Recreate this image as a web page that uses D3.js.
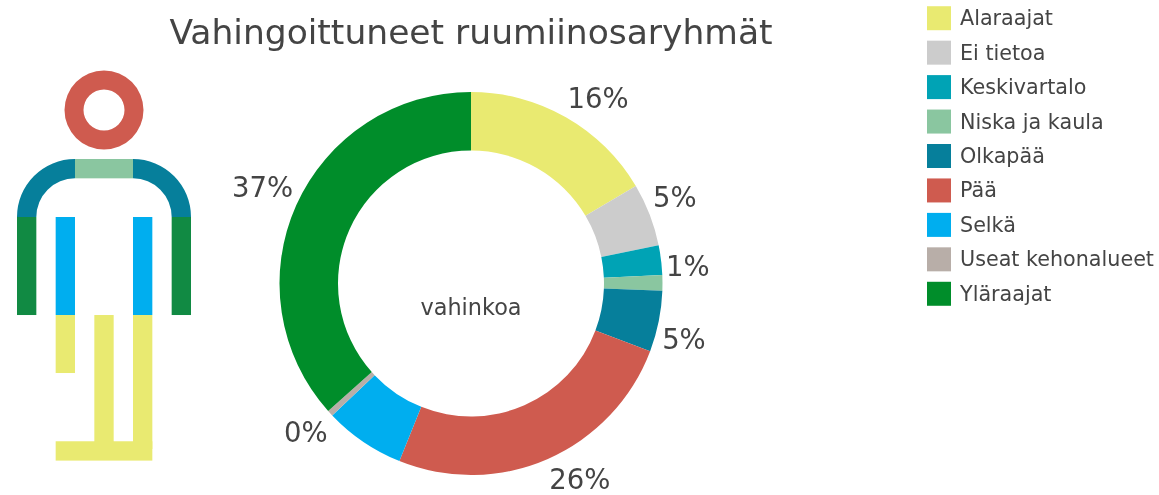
<!DOCTYPE html>
<html>
<head>
<meta charset="utf-8">
<script src="https://cdn.jsdelivr.net/npm/d3@7"></script>
<style>
    html, body { margin: 0; background: #fff; }
    svg { display: block; filter: blur(0.7px); }
    text { font-family: "DejaVu Sans", sans-serif; fill: #444; }
</style>
</head>
<body>
<svg id="chart"></svg>
<script>
let width = 1159;
let height = 495;

let categories = ["Alaraajat", "Ei tietoa", "Keskivartalo", "Niska ja kaula", "Olkapää", "Pää", "Selkä", "Useat kehonalueet", "Yläraajat"];
let values = [16.5, 5.3, 2.5, 1.3, 5.15, 25.35, 6.8, 0.5, 36.6];
// the original only prints some of the labels, the rest were hidden
let sliceLabels = ["16%", "5%", "", "1%", "5%", "26%", "", "0%", "37%"];
let colors = ["#e9ea71", "#cccccc", "#00a3b5", "#8ac6a0", "#067f9b", "#cf5b4f", "#00aeef", "#b8aea8", "#008d2a"];

// body figure, in grid cells: category index, x0, x1, y0, y1
let bodyParts = [
    [8, 0, 1, 3, 8.07],
    [8, 8, 9, 3, 8.07],
    [6, 2, 3, 3, 8.07],
    [6, 6, 7, 3, 8.07],
    [3, 3, 6, 0, 1],
    [0, 2, 3, 8.07, 11.07],
    [0, 4, 5, 8.07, 15],
    [0, 6, 7, 8.07, 15],
    [0, 2, 7, 14.6, 15.6]
];
let armColor = "#118a43";

let svg = d3.select("#chart")
    .attr("width", width)
    .attr("height", height);

svg.append("text")
    .attr("x", 471)
    .attr("y", 44)
    .attr("text-anchor", "middle")
    .attr("font-size", 34.5)
    .text("Vahingoittuneet ruumiinosaryhmät");

// donut
let outerRadius = 191.5;
let innerRadius = 133;
let pie = d3.pie().sort(null)(values);
let arc = d3.arc().innerRadius(innerRadius).outerRadius(outerRadius);
let labelArc = d3.arc().innerRadius(195).outerRadius(195);

let donut = svg.append("g")
    .attr("transform", "translate(471,283.5)");

donut.selectAll("path")
    .data(pie)
    .join("path")
    .attr("d", arc)
    .attr("fill", (d, i) => colors[i]);

// labels hang off the arc by their nearest corner
let midAngle = d => (d.startAngle + d.endAngle) / 2;
donut.selectAll("text")
    .data(pie)
    .join("text")
    .attr("x", d => labelArc.centroid(d)[0])
    .attr("y", d => labelArc.centroid(d)[1] - Math.sign(Math.cos(midAngle(d))) * 16.5)
    .attr("text-anchor", d => Math.sin(midAngle(d)) > 0 ? "start" : "end")
    .attr("dominant-baseline", "central")
    .attr("font-size", 27.5)
    .text((d, i) => sliceLabels[i]);

donut.append("text")
    .attr("y", 23)
    .attr("text-anchor", "middle")
    .attr("dominant-baseline", "central")
    .attr("font-size", 22.4)
    .text("vahinkoa");

// body figure
let gx = d3.scaleLinear().domain([0, 9]).range([17, 191]);
let gy = d3.scaleLinear().domain([0, 9]).range([159, 333]);
let body = svg.append("g");

body.selectAll("rect")
    .data(bodyParts)
    .join("rect")
    .attr("x", d => gx(d[1]))
    .attr("y", d => gy(d[3]))
    .attr("width", d => gx(d[2]) - gx(d[1]))
    .attr("height", d => gy(d[4]) - gy(d[3]))
    .attr("fill", d => d[0] == 8 ? armColor : colors[d[0]]);

let unit = gx(1) - gx(0);

// shoulders
let shoulder = d3.arc().innerRadius(unit * 2).outerRadius(unit * 3);
body.append("path")
    .attr("transform", `translate(${gx(3)},${gy(3)})`)
    .attr("d", shoulder({startAngle: -Math.PI / 2, endAngle: 0}))
    .attr("fill", colors[4]);
body.append("path")
    .attr("transform", `translate(${gx(6)},${gy(3)})`)
    .attr("d", shoulder({startAngle: 0, endAngle: Math.PI / 2}))
    .attr("fill", colors[4]);

// head
body.append("path")
    .attr("transform", `translate(${gx(4.5)},110)`)
    .attr("d", d3.arc().innerRadius(20.5).outerRadius(39.5)({startAngle: 0, endAngle: 2 * Math.PI}))
    .attr("fill", colors[5]);

// legend
let legendRow = d3.scaleBand().domain(categories).range([1, 311]);
let legend = svg.append("g");

legend.selectAll("rect")
    .data(categories)
    .join("rect")
    .attr("x", 927)
    .attr("y", d => legendRow(d) + (legendRow.step() - 24) / 2)
    .attr("width", 24)
    .attr("height", 24)
    .attr("fill", (d, i) => colors[i]);

legend.selectAll("text")
    .data(categories)
    .join("text")
    .attr("x", 960)
    .attr("y", d => legendRow(d) + legendRow.step() / 2)
    .attr("dominant-baseline", "central")
    .attr("font-size", 20.7)
    .text(d => d);
</script>
</body>
</html>
